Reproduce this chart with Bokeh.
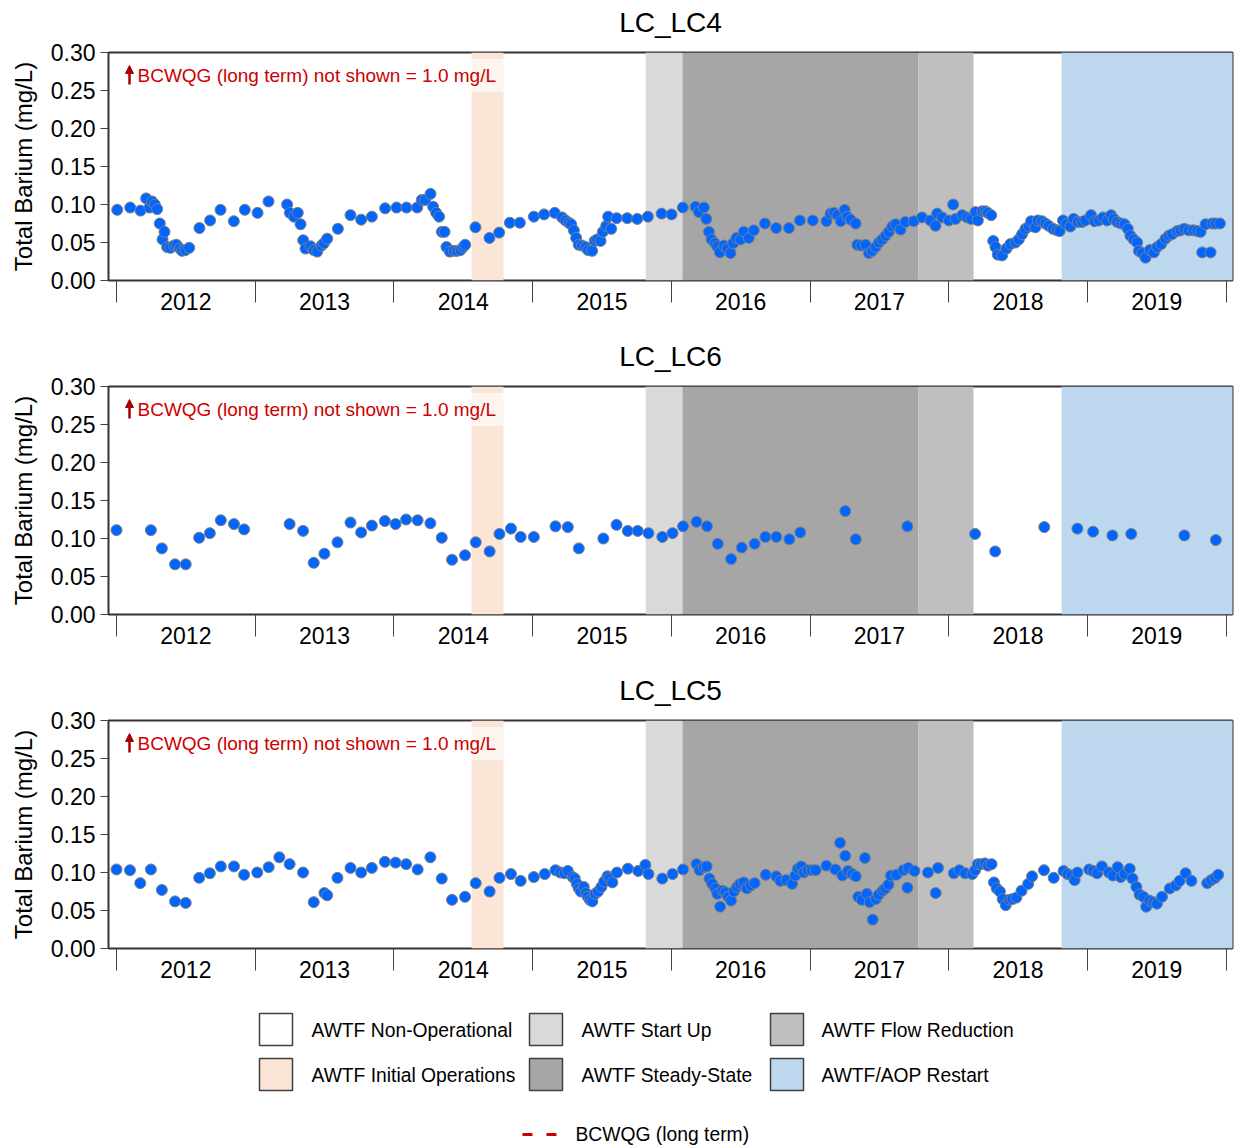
from bokeh.plotting import figure
from bokeh.models import (FixedTicker, PrintfTickFormatter, Range1d, Label,
                          ColumnDataSource, Arrow, NormalHead)
from bokeh.core.properties import value
from bokeh.layouts import column
from bokeh.embed import file_html
from bokeh.resources import INLINE

FONT = "Liberation Sans"

# ---------------- data ----------------
years = [2012, 2013, 2014, 2015, 2016, 2017, 2018, 2019]
year_labels = ["2012", "2013", "2014", "2015", "2016", "2017", "2018", "2019"]
y_ticks = [0.00, 0.05, 0.10, 0.15, 0.20, 0.25, 0.30]

phase_names = ["AWTF Initial Operations", "AWTF Start Up", "AWTF Steady-State",
               "AWTF Flow Reduction", "AWTF/AOP Restart"]
phase_start = [2014.560, 2015.815, 2016.081, 2017.782, 2018.814]
phase_end = [2014.790, 2016.081, 2017.782, 2018.179, 2020.300]
phase_colors = ["#FBE5D6", "#D9D9D9", "#A6A6A6", "#BFBFBF", "#BDD7EE"]

legend_names = ["AWTF Non-Operational", "AWTF Initial Operations", "AWTF Start Up",
                "AWTF Steady-State", "AWTF Flow Reduction", "AWTF/AOP Restart"]
legend_colors = ["#FFFFFF", "#FBE5D6", "#D9D9D9", "#A6A6A6", "#BFBFBF", "#BDD7EE"]
guideline_name = "BCWQG (long term)"
guideline_text = "BCWQG (long term) not shown = 1.0 mg/L"

lc4_date = [
    2012.005, 2012.099, 2012.173, 2012.214, 2012.238, 2012.257, 2012.276, 2012.293, 2012.312, 2012.332,
    2012.346, 2012.365, 2012.389, 2012.413, 2012.433, 2012.457, 2012.473, 2012.497, 2012.524, 2012.598,
    2012.675, 2012.750, 2012.846, 2012.925, 2013.017, 2013.096, 2013.230, 2013.250, 2013.279, 2013.307,
    2013.327, 2013.346, 2013.363, 2013.399, 2013.423, 2013.447, 2013.478, 2013.495, 2013.519, 2013.596,
    2013.687, 2013.764, 2013.841, 2013.937, 2014.019, 2014.091, 2014.168, 2014.201, 2014.225, 2014.264,
    2014.283, 2014.305, 2014.326, 2014.346, 2014.365, 2014.379, 2014.403, 2014.432, 2014.456, 2014.480,
    2014.499, 2014.514, 2014.588, 2014.689, 2014.759, 2014.836, 2014.908, 2015.009, 2015.083, 2015.160,
    2015.213, 2015.237, 2015.261, 2015.278, 2015.297, 2015.314, 2015.333, 2015.357, 2015.381, 2015.400,
    2015.429, 2015.448, 2015.466, 2015.490, 2015.507, 2015.531, 2015.545, 2015.567, 2015.606, 2015.682,
    2015.754, 2015.831, 2015.930, 2016.002, 2016.083, 2016.175, 2016.199, 2016.235, 2016.252, 2016.271,
    2016.290, 2016.314, 2016.331, 2016.350, 2016.379, 2016.403, 2016.427, 2016.446, 2016.470, 2016.499,
    2016.523, 2016.559, 2016.595, 2016.675, 2016.756, 2016.848, 2016.927, 2017.020, 2017.119, 2017.148,
    2017.173, 2017.197, 2017.221, 2017.250, 2017.269, 2017.293, 2017.329, 2017.341, 2017.370, 2017.401,
    2017.425, 2017.449, 2017.473, 2017.497, 2017.521, 2017.545, 2017.569, 2017.593, 2017.617, 2017.653,
    2017.688, 2017.748, 2017.808, 2017.868, 2017.905, 2017.917, 2017.953, 2018.001, 2018.032, 2018.049,
    2018.097, 2018.133, 2018.162, 2018.193, 2018.210, 2018.241, 2018.265, 2018.282, 2018.306, 2018.321,
    2018.337, 2018.354, 2018.385, 2018.416, 2018.445, 2018.481, 2018.505, 2018.529, 2018.553, 2018.577,
    2018.594, 2018.625, 2018.642, 2018.673, 2018.697, 2018.721, 2018.752, 2018.781, 2018.800, 2018.824,
    2018.848, 2018.877, 2018.901, 2018.930, 2018.961, 2018.985, 2019.026, 2019.051, 2019.082, 2019.113,
    2019.142, 2019.171, 2019.190, 2019.214, 2019.243, 2019.267, 2019.291, 2019.310, 2019.334, 2019.358,
    2019.371, 2019.395, 2019.419, 2019.450, 2019.479, 2019.503, 2019.532, 2019.563, 2019.587, 2019.611,
    2019.647, 2019.671, 2019.700, 2019.731, 2019.763, 2019.792, 2019.816, 2019.828, 2019.852, 2019.888,
    2019.900, 2019.924, 2019.955]
lc4_ba = [
    0.093, 0.096, 0.092, 0.108, 0.096, 0.104, 0.100, 0.094, 0.075, 0.054,
    0.064, 0.044, 0.043, 0.046, 0.047, 0.042, 0.039, 0.040, 0.043, 0.069,
    0.079, 0.093, 0.078, 0.093, 0.089, 0.104, 0.100, 0.089, 0.084, 0.089,
    0.074, 0.053, 0.042, 0.045, 0.040, 0.038, 0.046, 0.049, 0.055, 0.068,
    0.086, 0.080, 0.084, 0.095, 0.096, 0.096, 0.096, 0.106, 0.106, 0.114,
    0.097, 0.089, 0.084, 0.064, 0.064, 0.044, 0.038, 0.039, 0.039, 0.040,
    0.044, 0.047, 0.070, 0.056, 0.063, 0.076, 0.076, 0.084, 0.087, 0.089,
    0.083, 0.079, 0.076, 0.074, 0.066, 0.056, 0.047, 0.046, 0.044, 0.040,
    0.039, 0.052, 0.054, 0.052, 0.064, 0.072, 0.084, 0.068, 0.082, 0.082,
    0.081, 0.084, 0.088, 0.087, 0.096, 0.097, 0.090, 0.096, 0.081, 0.064,
    0.054, 0.049, 0.045, 0.037, 0.046, 0.042, 0.036, 0.049, 0.056, 0.054,
    0.064, 0.056, 0.066, 0.075, 0.069, 0.069, 0.079, 0.079, 0.078, 0.088,
    0.089, 0.086, 0.078, 0.093, 0.084, 0.080, 0.075, 0.047, 0.046, 0.047,
    0.036, 0.039, 0.044, 0.050, 0.054, 0.059, 0.064, 0.071, 0.074, 0.067,
    0.077, 0.078, 0.083, 0.079, 0.072, 0.088, 0.083, 0.079, 0.100, 0.081,
    0.086, 0.083, 0.081, 0.090, 0.079, 0.091, 0.091, 0.089, 0.086, 0.052,
    0.044, 0.034, 0.033, 0.042, 0.048, 0.050, 0.054, 0.061, 0.068, 0.071,
    0.078, 0.070, 0.079, 0.078, 0.075, 0.072, 0.068, 0.066, 0.065, 0.079,
    0.074, 0.071, 0.081, 0.077, 0.077, 0.079, 0.086, 0.078, 0.079, 0.083,
    0.079, 0.086, 0.081, 0.077, 0.075, 0.074, 0.068, 0.059, 0.054, 0.050,
    0.039, 0.036, 0.030, 0.040, 0.037, 0.044, 0.048, 0.055, 0.059, 0.061,
    0.065, 0.066, 0.068, 0.066, 0.066, 0.065, 0.064, 0.037, 0.074, 0.037,
    0.075, 0.075, 0.075]

lc6_date = [
    2012.000, 2012.248, 2012.327, 2012.422, 2012.499, 2012.596, 2012.673, 2012.752, 2012.847, 2012.920,
    2013.248, 2013.345, 2013.422, 2013.499, 2013.593, 2013.687, 2013.764, 2013.841, 2013.935, 2014.012,
    2014.088, 2014.171, 2014.263, 2014.345, 2014.419, 2014.513, 2014.590, 2014.690, 2014.761, 2014.844,
    2014.914, 2015.009, 2015.165, 2015.254, 2015.333, 2015.510, 2015.605, 2015.686, 2015.758, 2015.835,
    2015.935, 2016.009, 2016.085, 2016.182, 2016.258, 2016.335, 2016.431, 2016.508, 2016.601, 2016.678,
    2016.757, 2016.851, 2016.930, 2017.254, 2017.330, 2017.702, 2018.190, 2018.335, 2018.689, 2018.928,
    2019.041, 2019.180, 2019.316, 2019.699, 2019.926]
lc6_ba = [
    0.111, 0.111, 0.087, 0.066, 0.066, 0.101, 0.107, 0.124, 0.119, 0.112,
    0.119, 0.110, 0.068, 0.080, 0.095, 0.121, 0.108, 0.117, 0.123, 0.119,
    0.125, 0.124, 0.120, 0.101, 0.072, 0.078, 0.095, 0.083, 0.106, 0.113,
    0.102, 0.102, 0.116, 0.115, 0.087, 0.100, 0.118, 0.110, 0.110, 0.107,
    0.102, 0.107, 0.116, 0.122, 0.116, 0.093, 0.073, 0.088, 0.093, 0.102,
    0.102, 0.099, 0.108, 0.136, 0.099, 0.116, 0.106, 0.083, 0.115, 0.113,
    0.109, 0.104, 0.106, 0.104, 0.098]

lc5_date = [
    2012.000, 2012.097, 2012.171, 2012.248, 2012.327, 2012.422, 2012.499, 2012.596, 2012.673, 2012.752,
    2012.847, 2012.920, 2013.015, 2013.097, 2013.174, 2013.248, 2013.345, 2013.422, 2013.499, 2013.519,
    2013.593, 2013.687, 2013.764, 2013.841, 2013.935, 2014.012, 2014.088, 2014.171, 2014.263, 2014.345,
    2014.419, 2014.513, 2014.590, 2014.690, 2014.761, 2014.844, 2014.914, 2015.009, 2015.088, 2015.165,
    2015.201, 2015.230, 2015.254, 2015.289, 2015.304, 2015.319, 2015.333, 2015.348, 2015.369, 2015.383,
    2015.398, 2015.413, 2015.431, 2015.451, 2015.472, 2015.496, 2015.516, 2015.540, 2015.555, 2015.575,
    2015.608, 2015.687, 2015.761, 2015.813, 2015.835, 2015.935, 2016.009, 2016.085, 2016.182, 2016.204,
    2016.233, 2016.255, 2016.275, 2016.295, 2016.318, 2016.332, 2016.352, 2016.369, 2016.389, 2016.409,
    2016.431, 2016.451, 2016.474, 2016.496, 2016.522, 2016.545, 2016.573, 2016.601, 2016.681, 2016.757,
    2016.786, 2016.828, 2016.871, 2016.894, 2016.913, 2016.936, 2016.956, 2016.984, 2017.013, 2017.041,
    2017.118, 2017.183, 2017.217, 2017.234, 2017.254, 2017.274, 2017.305, 2017.330, 2017.348, 2017.373,
    2017.396, 2017.410, 2017.430, 2017.452, 2017.475, 2017.495, 2017.523, 2017.543, 2017.566, 2017.583,
    2017.623, 2017.674, 2017.702, 2017.708, 2017.753, 2017.850, 2017.906, 2017.923, 2018.037, 2018.077,
    2018.119, 2018.170, 2018.190, 2018.210, 2018.233, 2018.261, 2018.284, 2018.309, 2018.326, 2018.346,
    2018.369, 2018.389, 2018.411, 2018.437, 2018.460, 2018.488, 2018.525, 2018.573, 2018.601, 2018.687,
    2018.757, 2018.828, 2018.857, 2018.885, 2018.908, 2018.928, 2019.013, 2019.041, 2019.070, 2019.104,
    2019.155, 2019.184, 2019.218, 2019.240, 2019.268, 2019.305, 2019.325, 2019.353, 2019.376, 2019.404,
    2019.424, 2019.447, 2019.475, 2019.501, 2019.538, 2019.594, 2019.637, 2019.665, 2019.708, 2019.750,
    2019.864, 2019.892, 2019.921, 2019.943]
lc5_ba = [
    0.104, 0.103, 0.086, 0.104, 0.077, 0.062, 0.060, 0.093, 0.099, 0.108,
    0.108, 0.097, 0.100, 0.107, 0.120, 0.111, 0.100, 0.061, 0.073, 0.070,
    0.093, 0.106, 0.100, 0.106, 0.114, 0.113, 0.111, 0.104, 0.120, 0.092,
    0.064, 0.068, 0.086, 0.075, 0.093, 0.098, 0.089, 0.094, 0.098, 0.103,
    0.100, 0.099, 0.102, 0.094, 0.092, 0.085, 0.079, 0.075, 0.081, 0.073,
    0.068, 0.064, 0.062, 0.072, 0.075, 0.081, 0.088, 0.095, 0.092, 0.087,
    0.100, 0.105, 0.102, 0.110, 0.098, 0.092, 0.098, 0.104, 0.111, 0.103,
    0.107, 0.108, 0.092, 0.085, 0.079, 0.072, 0.055, 0.076, 0.074, 0.068,
    0.063, 0.075, 0.081, 0.085, 0.087, 0.079, 0.083, 0.086, 0.097, 0.095,
    0.089, 0.090, 0.085, 0.096, 0.105, 0.108, 0.100, 0.103, 0.103, 0.103,
    0.109, 0.104, 0.139, 0.096, 0.122, 0.102, 0.098, 0.095, 0.068, 0.064,
    0.119, 0.072, 0.061, 0.038, 0.065, 0.071, 0.076, 0.079, 0.084, 0.096,
    0.097, 0.103, 0.080, 0.106, 0.102, 0.100, 0.073, 0.106, 0.099, 0.103,
    0.099, 0.098, 0.103, 0.111, 0.111, 0.112, 0.109, 0.111, 0.087, 0.079,
    0.075, 0.065, 0.057, 0.064, 0.065, 0.067, 0.076, 0.085, 0.095, 0.103,
    0.093, 0.102, 0.098, 0.096, 0.090, 0.100, 0.104, 0.102, 0.099, 0.108,
    0.100, 0.096, 0.107, 0.094, 0.098, 0.105, 0.092, 0.081, 0.071, 0.068,
    0.055, 0.063, 0.061, 0.059, 0.068, 0.079, 0.083, 0.089, 0.099, 0.089,
    0.086, 0.090, 0.093, 0.097]

panels = [("LC_LC4", lc4_date, lc4_ba),
          ("LC_LC6", lc6_date, lc6_ba),
          ("LC_LC5", lc5_date, lc5_ba)]

# ---------------- styling / layout ----------------
PAGE_W = 1236
FRAME_L, FRAME_R = 108, 1232
PANEL_H = 334
TITLE_H = 40          # strip holding the panel title
PLOT_TOP = 12         # gap between strip and frame
TITLE_Y = 22          # title centre inside the strip
X_START, X_END = 2011.9423, 2020.046
DOT_FILL = "#0066FF"
DOT_LINE = "#7F7F7F"
TICK_COLOR = "#444444"
FRAME_COLOR = "#333333"
NOTE_RED = "#CC0000"
ARROW_RED = "#A50000"


def make_title(title):
    t = figure(width=PAGE_W, height=TITLE_H, output_backend="svg", toolbar_location=None,
               x_range=Range1d(FRAME_L, FRAME_R), y_range=Range1d(TITLE_H, 0),
               min_border=0)
    t.axis.visible = False
    t.grid.visible = False
    t.outline_line_color = None
    t.text(x=[(FRAME_L + FRAME_R) / 2], y=[TITLE_Y], text=[title],
           text_font=value(FONT), text_font_size="28px", text_color="black",
           text_align="center", text_baseline="middle")
    return t


def make_panel(xs, ys):
    p = figure(width=PAGE_W, height=PANEL_H - TITLE_H, output_backend="svg",
               toolbar_location=None,
               x_range=Range1d(X_START, X_END), y_range=Range1d(0, 0.30),
               min_border_left=FRAME_L, min_border_right=PAGE_W - FRAME_R,
               min_border_top=PLOT_TOP, min_border_bottom=54)
    p.grid.visible = False
    p.background_fill_color = "white"
    p.border_fill_color = "white"
    p.outline_line_color = FRAME_COLOR
    p.outline_line_width = 2

    band_src = ColumnDataSource(dict(left=phase_start, right=phase_end,
                                     color=phase_colors, name=phase_names))
    p.quad(left="left", right="right", bottom=0, top=0.30, fill_color="color",
           line_color=None, source=band_src)

    pts = ColumnDataSource(dict(x=xs, y=ys))
    p.scatter(x="x", y="y", source=pts, size=11, fill_color=DOT_FILL,
              line_color=DOT_LINE, line_width=1)

    mids = [y + 0.5 for y in years]
    xa = p.xaxis[0]
    xa.ticker = FixedTicker(ticks=mids, minor_ticks=years + [years[-1] + 1])
    xa.major_label_overrides = {m: lab for m, lab in zip(mids, year_labels)}
    xa.major_tick_in = 0
    xa.major_tick_out = 0
    xa.minor_tick_in = 0
    xa.minor_tick_out = 22
    xa.minor_tick_line_color = TICK_COLOR
    xa.minor_tick_line_width = 1
    xa.axis_line_color = None
    xa.major_label_standoff = -10
    xa.major_label_text_font = FONT
    xa.major_label_text_font_size = "23px"
    xa.major_label_text_color = "black"

    ya = p.yaxis[0]
    ya.ticker = FixedTicker(ticks=y_ticks, minor_ticks=[])
    ya.formatter = PrintfTickFormatter(format="%.2f")
    ya.major_tick_in = 0
    ya.major_tick_out = 8
    ya.major_tick_line_color = TICK_COLOR
    ya.minor_tick_out = 0
    ya.minor_tick_in = 0
    ya.axis_line_color = None
    ya.major_label_standoff = 5
    ya.major_label_text_font = FONT
    ya.major_label_text_font_size = "23px"
    ya.major_label_text_color = "black"
    ya.axis_label = "Total Barium (mg/L)"
    ya.axis_label_text_font = FONT
    ya.axis_label_text_font_size = "24px"
    ya.axis_label_text_font_style = "normal"
    ya.axis_label_text_color = "black"
    ya.axis_label_standoff = 11

    note = Label(x=19, y=205, x_units="screen", y_units="screen", text=guideline_text,
                 text_color=NOTE_RED, text_font=FONT, text_font_size="19px",
                 text_baseline="middle", background_fill_color="white",
                 background_fill_alpha=0.6,
                 padding=dict(left=10, right=10, top=6, bottom=6))
    p.add_layout(note)
    p.add_layout(Arrow(x_start=21, y_start=196, x_end=21, y_end=215,
                       start_units="screen", end_units="screen",
                       line_color=ARROW_RED, line_width=2.5,
                       end=NormalHead(size=8, fill_color=ARROW_RED, line_color=ARROW_RED,
                                      line_width=1)))
    return p


items = []
for t, xs, ys in panels:
    items.append(make_title(t))
    items.append(make_panel(xs, ys))

# ---------------- legend panel (page-x pixel layout, top-down y) ----------------
LEG_H = 1147 - 3 * PANEL_H
box_left = [259, 259, 529, 529, 770, 770]
box_top = [11, 56, 11, 56, 11, 56]
BOX_W, BOX_H = 33, 32
text_left = [311, 311, 581, 581, 821, 821]
text_mid = [28, 73, 28, 73, 28, 73]

# the column aligns this figure's frame with the panels above (x 108..1232)
lf = figure(width=PAGE_W, height=LEG_H, output_backend="svg", toolbar_location=None,
            x_range=Range1d(FRAME_L, FRAME_R), y_range=Range1d(LEG_H, 0), min_border=0)
lf.axis.visible = False
lf.grid.visible = False
lf.outline_line_color = None

sw = ColumnDataSource(dict(left=box_left, right=[b + BOX_W for b in box_left],
                           top=box_top, bottom=[t + BOX_H for t in box_top],
                           color=legend_colors, tx=text_left, ty=text_mid,
                           name=legend_names))
lf.quad(left="left", right="right", top="top", bottom="bottom", fill_color="color",
        line_color="#404040", line_width=1.5, source=sw)
lf.text(x="tx", y="ty", text="name", source=sw, text_font=value(FONT),
        text_font_size="19.3px", text_baseline="middle", text_color="black")

GUIDE_Y = 132
lf.line(x=[522, 556], y=[GUIDE_Y, GUIDE_Y], line_color=NOTE_RED, line_width=3,
        line_dash="10 14")
lf.text(x=[575], y=[GUIDE_Y], text=[guideline_name], text_font=value(FONT),
        text_font_size="19.3px", text_baseline="middle", text_color="black")

items.append(lf)
layout = column(*items, spacing=0)

open("out.html", "w").write(file_html(layout, INLINE))
